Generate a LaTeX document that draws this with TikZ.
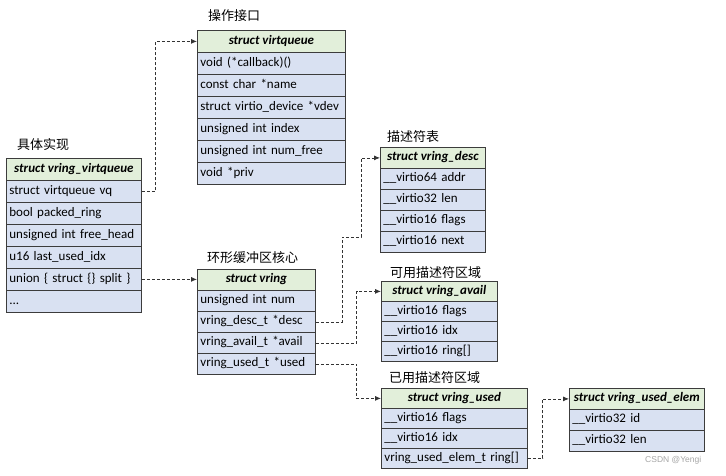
\documentclass[tikz,border=0pt]{standalone}
\usepackage{fontspec}
\setmainfont{Carlito}
\newfontfamily\cjk{Noto Sans CJK SC}
\newfontfamily\wmfont{Liberation Sans}
\usetikzlibrary{arrows.meta}
\definecolor{hdrc}{HTML}{E2EFDA}
\definecolor{rowc}{HTML}{D9E1F2}
\definecolor{bdrc}{HTML}{3C3C3C}
\definecolor{lnc}{HTML}{333333}
\begin{document}
\begin{tikzpicture}[x=1pt,y=-1pt,
  box/.style={draw=bdrc, line width=0.8pt, anchor=north west, inner xsep=3pt, inner ysep=0pt,
    text height=9pt, text depth=3pt, font=\fontsize{13}{15}\selectfont},
  hd/.style={box, fill=hdrc, minimum width=#1, font=\fontsize{13}{15}\selectfont\bfseries\itshape},
  rw/.style={box, fill=rowc, text width=#1, align=left},
  lbl/.style={anchor=west, inner sep=0pt, font=\cjk\fontsize{13}{15}\selectfont},
  conn/.style={draw=lnc, line width=0.8pt, dash pattern=on 3pt off 2pt, -{Latex[length=6pt,width=5pt]}}
]
\useasboundingbox[fill=white] (0,0) rectangle (726,475);

% labels
\node[lbl] (l1) at (17,145) {具体实现};
\node[lbl] (l2) at (208,16) {操作接口};
\node[lbl] (l3) at (207,258) {环形缓冲区核心};
\node[lbl] (l4) at (387,137) {描述符表};
\node[lbl] (l5) at (390,273) {可用描述符区域};
\node[lbl] (l6) at (389,378) {已用描述符区域};

% struct vring_virtqueue
\begin{scope}[every node/.append style={minimum height=22pt}]
\node[hd=135pt] (v0) at (6,158) {struct vring\_virtqueue};
\node[rw=129pt] (v1) at (6,180) {struct virtqueue vq};
\node[rw=129pt] (v2) at (6,202) {bool packed\_ring};
\node[rw=129pt] (v3) at (6,224) {unsigned int free\_head};
\node[rw=129pt] (v4) at (6,246) {u16 last\_used\_idx};
\node[rw=129pt] (v5) at (6,268) {union \{ struct \{\} split \}};
\node[rw=129pt] (v6) at (6,290) {...};
\end{scope}

% struct virtqueue
\begin{scope}[every node/.append style={minimum height=22pt}]
\node[hd=148pt] (q0) at (197,30) {struct virtqueue};
\node[rw=142pt] (q1) at (197,52) {void (*callback)()};
\node[rw=142pt] (q2) at (197,74) {const char *name};
\node[rw=142pt] (q3) at (197,96) {struct virtio\_device *vdev};
\node[rw=142pt] (q4) at (197,118) {unsigned int index};
\node[rw=142pt] (q5) at (197,140) {unsigned int num\_free};
\node[rw=142pt] (q6) at (197,162) {void *priv};
\end{scope}

% struct vring
\begin{scope}[every node/.append style={minimum height=21pt}]
\node[hd=118pt] (r0) at (197,269) {struct vring};
\node[rw=112pt] (r1) at (197,290) {unsigned int num};
\node[rw=112pt] (r2) at (197,311) {vring\_desc\_t *desc};
\node[rw=112pt] (r3) at (197,332) {vring\_avail\_t *avail};
\node[rw=112pt] (r4) at (197,353) {vring\_used\_t *used};
\end{scope}

% struct vring_desc
\begin{scope}[every node/.append style={minimum height=21pt}]
\node[hd=105pt] (d0) at (380,147) {struct vring\_desc};
\node[rw=99pt] (d1) at (380,168) {\_\_virtio64 addr};
\node[rw=99pt] (d2) at (380,189) {\_\_virtio32 len};
\node[rw=99pt] (d3) at (380,210) {\_\_virtio16 flags};
\node[rw=99pt] (d4) at (380,231) {\_\_virtio16 next};
\end{scope}

% struct vring_avail
\begin{scope}[every node/.append style={minimum height=20pt}]
\node[hd=116pt] (a0) at (381,281) {struct vring\_avail};
\node[rw=110pt] (a1) at (381,301) {\_\_virtio16 flags};
\node[rw=110pt] (a2) at (381,321) {\_\_virtio16 idx};
\node[rw=110pt] (a3) at (381,341) {\_\_virtio16 ring[]};
\end{scope}

% struct vring_used
\begin{scope}[every node/.append style={minimum height=20pt}]
\node[hd=146pt] (u0) at (381,388) {struct vring\_used};
\node[rw=140pt] (u1) at (381,408) {\_\_virtio16 flags};
\node[rw=140pt] (u2) at (381,428) {\_\_virtio16 idx};
\node[rw=140pt] (u3) at (381,448) {vring\_used\_elem\_t ring[]};
\end{scope}

% struct vring_used_elem
\begin{scope}[every node/.append style={minimum height=21pt}]
\node[hd=135pt] (e0) at (569,388) {struct vring\_used\_elem};
\node[rw=129pt] (e1) at (569,409) {\_\_virtio32 id};
\node[rw=129pt] (e2) at (569,430) {\_\_virtio32 len};
\end{scope}

% connectors
\draw[conn] (v1.east) -- ++(14,0) |- (q0.west);
\draw[conn] (v5.east) -- (r0.west |- v5.east);
\draw[conn] (r2.east) -| (342,237) -- (361,237) |- (d0.west);
\draw[conn] (r3.east) -- ++(41,0) |- (a0.west);
\draw[conn] (r4.east) -- ++(41,0) |- (u0.west);
\draw[conn] (u3.east) -- ++(15,0) |- (e0.west);

% watermark
\node[anchor=west, inner sep=0pt, text=black!35, font=\wmfont\fontsize{8.5}{10}\selectfont] (wm) at (645,460) {CSDN @Yengi};
\end{tikzpicture}
\end{document}
